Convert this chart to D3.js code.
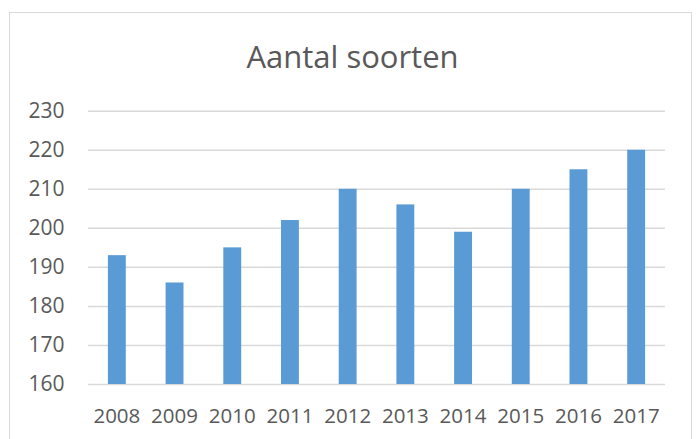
<!doctype html>
<html>
<head>
<meta charset="utf-8">
<script src="https://cdnjs.cloudflare.com/ajax/libs/d3/7.8.5/d3.min.js"></script>
<style>
    body { margin: 0; background: #fff; }
    svg { display: block; font-family: "Open Sans", sans-serif; }
</style>
</head>
<body>
<script>
    // data
    const years = ["2008", "2009", "2010", "2011", "2012", "2013", "2014", "2015", "2016", "2017"];
    const counts = [193, 186, 195, 202, 210, 206, 199, 210, 215, 220];
    const yTicks = [160, 170, 180, 190, 200, 210, 220, 230];

    const width = 698, height = 439;
    const plotLeft = 88, plotRight = 665, plotTop = 110.7, plotBottom = 384;

    const svg = d3.select('body').append('svg')
        .attr('width', width)
        .attr('height', height);

    // chart frame
    svg.append('rect')
        .attr('x', 9.5).attr('y', 12.5)
        .attr('width', 682).attr('height', 440)
        .attr('fill', '#fff')
        .attr('stroke', '#d9d9d9')
        .attr('stroke-width', 1);

    svg.append('text')
        .attr('x', 352.5)
        .attr('y', 68)
        .attr('text-anchor', 'middle')
        .attr('fill', '#595959')
        .style('font-size', '31px')
        .text('Aantal soorten');

    var xScale = d3.scaleBand()
        .domain(years)
        .range([plotLeft, plotRight])
        .paddingInner(0.69)
        .paddingOuter(0.345);

    var yScale = d3.scaleLinear()
        .domain([160, 230])
        .range([plotBottom, plotTop]);

    // gridlines + y labels
    var yAxis = d3.axisLeft(yScale)
        .tickValues(yTicks)
        .tickSize(-(plotRight - plotLeft))
        .tickPadding(23.5)
        .tickFormat(d3.format('d'));

    var gy = svg.append('g')
        .attr('transform', 'translate(' + plotLeft + ',0)')
        .call(yAxis);
    gy.select('.domain').remove();
    gy.selectAll('.tick line')
        .attr('stroke', '#d9d9d9')
        .attr('stroke-width', 1.5);
    gy.selectAll('.tick text')
        .attr('fill', '#595959')
        .style('font-size', '21px')
        .style('font-family', '"Open Sans", sans-serif');

    // bars
    svg.append('g')
        .selectAll('rect')
        .data(counts)
        .enter()
        .append('rect')
        .attr('x', (d, i) => xScale(years[i]))
        .attr('y', d => yScale(d))
        .attr('width', xScale.bandwidth())
        .attr('height', d => yScale(160) - yScale(d))
        .attr('fill', '#5b9bd5');

    // x labels
    var xAxis = d3.axisBottom(xScale)
        .tickSize(0)
        .tickPadding(24);

    var gx = svg.append('g')
        .attr('transform', 'translate(0,' + plotBottom + ')')
        .call(xAxis);
    gx.select('.domain').remove();
    gx.selectAll('.tick text')
        .attr('fill', '#595959')
        .style('font-size', '20.5px')
        .style('font-family', '"Open Sans", sans-serif');
</script>
</body>
</html>
